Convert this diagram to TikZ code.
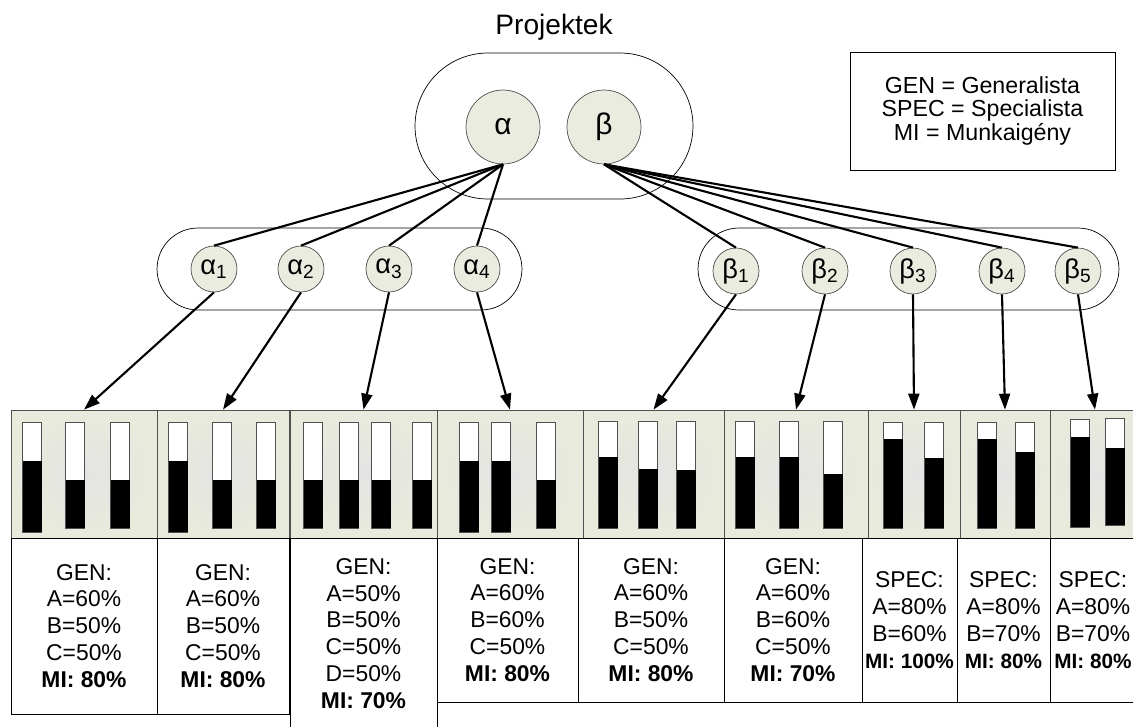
\documentclass[tikz,border=0pt]{standalone}
\usepackage{fontspec}
\setmainfont{Liberation Sans}
\usepackage{tikz}
\usetikzlibrary{arrows.meta, positioning, shapes.misc, calc}
\definecolor{nodefill}{RGB}{233,236,222}
\definecolor{panelfill}{RGB}{232,235,220}
\definecolor{panelmid}{RGB}{228,228,228}
\definecolor{rimgray}{RGB}{80,80,80}
\newcommand{\Lvl}[4]{% x, top, level, bottom
  \draw[rimgray, fill=white] (#1-9.5,#2) rectangle (#1+9.5,#4);
  \fill[black] (#1-9.5,#3) rectangle (#1+9.5,#4);
}
\newcommand{\Sub}[2]{#1\textsubscript{#2}}
\newcommand{\SpecMI}[1]{\fontsize{11.8}{15.3}\selectfont\textbf{MI: #1\%}}
\tikzset{
    proj/.style={circle, draw=rimgray, fill=nodefill, minimum size=1.48cm, inner sep=0pt, font=\fontsize{17}{17}\selectfont},
    task/.style={circle, draw=rimgray, fill=nodefill, minimum size=0.92cm, inner sep=0pt, font=\fontsize{15.5}{15.5}\selectfont},
    group/.style={rounded rectangle, draw, thin, inner sep=0pt},
    panel/.style={rectangle, draw=rimgray, outer color=panelfill, inner color=panelmid, minimum height=2.56cm, inner sep=0pt},
    info/.style={rectangle, draw, thin, align=center, inner sep=0pt, font=\fontsize{13}{15.3}\selectfont},
    link/.style={line width=1.2pt},
    assign/.style={line width=1.2pt, -{Triangle[length=3.2mm, width=2.2mm]}},
}

\begin{document}
\begin{tikzpicture}[x=0.02cm, y=-0.02cm]
    \clip (0,0) rectangle (1133,727);

    % projects
    \node[font=\fontsize{16}{16}\selectfont] (title) at (554,27) {Projektek};
    \node[group, minimum width=5.56cm, minimum height=2.92cm] (projects) at (554,126) {};
    \node[proj] (alpha) at (503,127) {α};
    \node[proj] (beta) at (604,127) {β};

    \node[info, font=\fontsize{13.2}{13.3}\selectfont, minimum width=5.3cm, minimum height=2.36cm] (legend) at (982.5,111)
        {GEN = Generalista\\SPEC = Specialista\\MI = Munkaigény};

    % tasks
    \node[group, minimum width=7.30cm, minimum height=1.64cm] (agroup) at (339.5,269) {};
    \node[group, minimum width=8.42cm, minimum height=1.64cm] (bgroup) at (908.5,269) {};
    \node[task] (a1) at (214,269) {\Sub{α}{1}};
    \node[task] (a2) at (301,269) {\Sub{α}{2}};
    \node[task] (a3) at (389,269) {\Sub{α}{3}};
    \node[task] (a4) at (477,269) {\Sub{α}{4}};
    \node[task] (b1) at (736,271) {\Sub{β}{1}};
    \node[task] (b2) at (825,271) {\Sub{β}{2}};
    \node[task] (b3) at (913,271) {\Sub{β}{3}};
    \node[task] (b4) at (1002,271) {\Sub{β}{4}};
    \node[task] (b5) at (1078,271) {\Sub{β}{5}};

    % teams
    \node[panel, minimum width=2.92cm] (p1) at (84,474) {};
    \node[panel, minimum width=2.64cm] (p2) at (223,474) {};
    \node[panel, minimum width=2.94cm] (p3) at (363.5,474) {};
    \node[panel, minimum width=2.92cm] (p4) at (510,474) {};
    \node[panel, minimum width=2.82cm] (p5) at (653.5,474) {};
    \node[panel, minimum width=2.88cm] (p6) at (796,474) {};
    \node[panel, minimum width=1.84cm] (p7) at (914,474) {};
    \node[panel, minimum width=1.80cm] (p8) at (1005,474) {};
    \node[panel, minimum width=1.80cm] (p9) at (1095,474) {};

    \foreach \x/\t/\l/\b in {32/422/461/532, 75/422/480/528, 120/422/480/528,
        178/422/461/532, 222/422/480/528, 266/422/480/528,
        313/422/480/528, 349/422/480/528, 381/422/480/528, 422/422/480/528,
        469/422/461/532, 501/422/461/532, 546/422/480/528,
        608/421/457/528, 648/421/469/528, 686/421/470/528,
        745/421/457/528, 789/421/457/528, 833/421/474/528,
        893/422/439/528, 934/422/458/528,
        987/422/439/528, 1025/422/452/528,
        1080/419/437/527, 1115/418/448/525}
        \Lvl{\x}{\t}{\l}{\b};

    \node[info, minimum width=2.92cm, minimum height=3.52cm] (t1) at (84,626)
        {GEN:\\A=60\%\\B=50\%\\C=50\%\\\textbf{MI: 80\%}};
    \node[info, minimum width=2.64cm, minimum height=3.52cm] (t2) at (223,626)
        {GEN:\\A=60\%\\B=50\%\\C=50\%\\\textbf{MI: 80\%}};
    \node[info, minimum width=2.94cm, minimum height=3.82cm] (t3) at (363.5,633.5)
        {GEN:\\A=50\%\\B=50\%\\C=50\%\\D=50\%\\\textbf{MI: 70\%}};
    \node[info, minimum width=2.82cm, minimum height=3.28cm] (t4) at (507.5,620)
        {GEN:\\A=60\%\\B=60\%\\C=50\%\\\textbf{MI: 80\%}};
    \node[info, minimum width=2.92cm, minimum height=3.28cm] (t5) at (651,620)
        {GEN:\\A=60\%\\B=50\%\\C=50\%\\\textbf{MI: 80\%}};
    \node[info, minimum width=2.76cm, minimum height=3.28cm] (t6) at (793,620)
        {GEN:\\A=60\%\\B=60\%\\C=50\%\\\textbf{MI: 70\%}};
    \node[info, minimum width=1.90cm, minimum height=3.28cm] (t7) at (909.5,620)
        {SPEC:\\A=80\%\\B=60\%\\\SpecMI{100}};
    \node[info, minimum width=1.86cm, minimum height=3.28cm] (t8) at (1003.5,620)
        {SPEC:\\A=80\%\\B=70\%\\\SpecMI{80}};
    \node[info, minimum width=1.70cm, minimum height=3.28cm] (t9) at (1093,620)
        {SPEC:\\A=80\%\\B=70\%\\\SpecMI{80}};

    % connections
    \foreach \n in {a1, a2, a3, a4}
        \draw[link] (alpha.south) -- (\n.north);
    \foreach \n in {b1, b2, b3, b4, b5}
        \draw[link] (beta.south) -- (\n.north);
    \foreach \s/\d in {a1/p1, a2/p2, a3/p3, a4/p4, b1/p5, b2/p6, b3/p7, b4/p8, b5/p9}
        \draw[assign] (\s.south) -- (\d.north);
\end{tikzpicture}
\end{document}
